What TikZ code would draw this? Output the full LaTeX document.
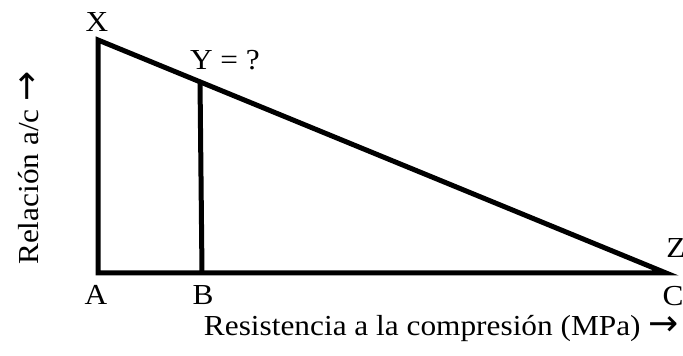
\documentclass[tikz,border=0pt]{standalone}
\usepackage{fontspec}
\setmainfont{Liberation Serif}[FakeStretch=1.08]
\newfontfamily\arrowfont{DejaVu Sans}
\newcommand\rarrow{{\arrowfont\fontsize{18}{18}\selectfont →}}
\usetikzlibrary{positioning,calc}

\begin{document}
\begin{tikzpicture}[
    x=0.5pt, y=0.5pt,
    side/.style={line width=2.5pt, line join=miter},
    lbl/.style={inner sep=0pt, font=\fontsize{14.5}{16}\selectfont},
    axislbl/.style={inner sep=0pt, font=\fontsize{14.5}{16}\selectfont}
]
\useasboundingbox (0,0) rectangle (683,356);

% corners
\coordinate (A) at (98,83);
\coordinate (X) at (98,316);
\coordinate (C) at (666,83);
\coordinate (B) at (202,83);
\coordinate (Y) at ($(X)!0.1796!(C)$);

\draw[side] (X) -- (A) -- (C) -- cycle;
\draw[side] (B) -- (Y);

\node[lbl] (xlbl) at (97,334) {X};
\node[lbl] (ylbl) at (225,296) {Y = ?};
\node[lbl] (zlbl) at (676,108) {Z};
\node[lbl] (albl) at (96,61) {A};
\node[lbl] (blbl) at (203,61) {B};
\node[lbl] (clbl) at (673,60) {C};

\node[axislbl, anchor=base east] (xaxis) at (679,20) {Resistencia a la compresión (MPa) \rarrow};
\node[axislbl, anchor=base, rotate=90] (yaxis) at (38,188) {Relación a/c \rarrow};
\end{tikzpicture}
\end{document}
